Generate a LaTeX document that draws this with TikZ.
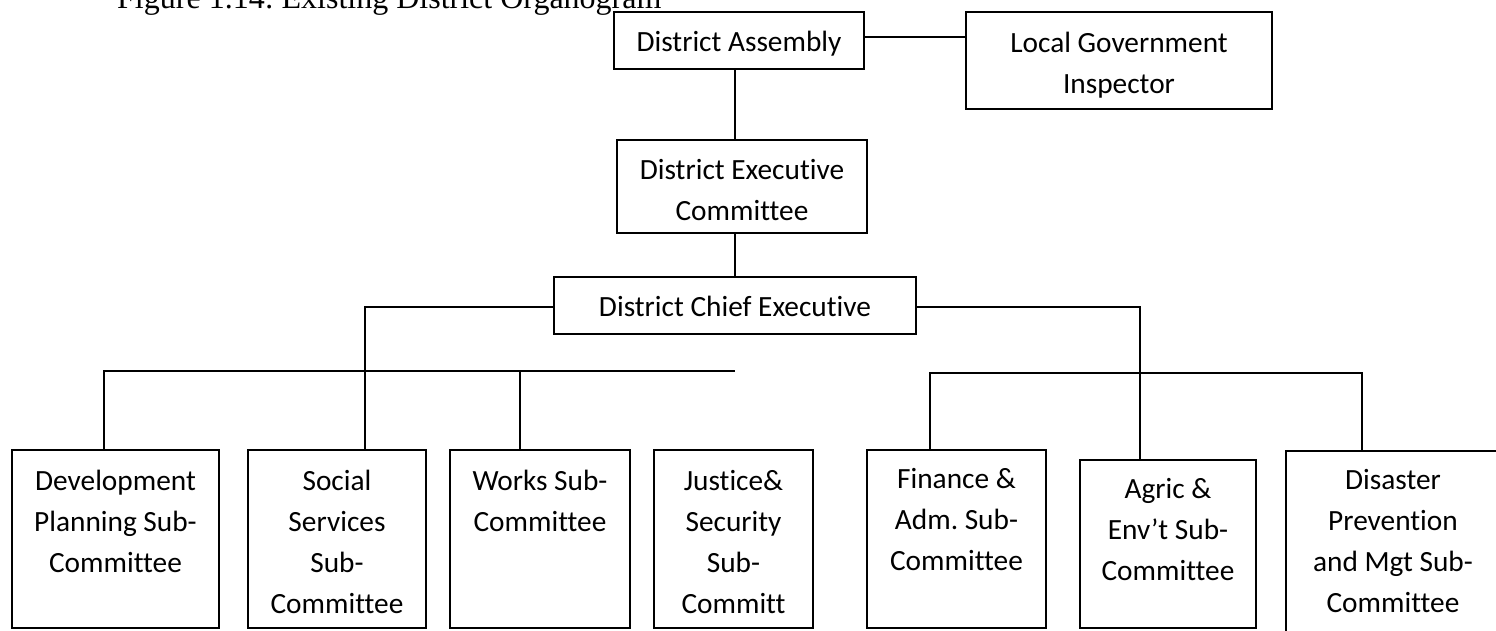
\documentclass[tikz,border=0pt]{standalone}
\usepackage{fontspec}
\newfontfamily\boxfont{Carlito}[Ligatures=NoCommon]
\newfontfamily\captionfont{Liberation Serif}
\frenchspacing
% box of fixed size (width, height in pt), first baseline at #3 below the top
\newcommand{\cellbox}[4]{\parbox[c][#2pt][t]{#1pt}{\centering\rule{0pt}{#3pt}#4}}
\begin{document}
\begin{tikzpicture}[x=1pt,y=-1pt,
  unit/.style={draw,line width=2.2pt,inner sep=0pt,outer sep=0pt,anchor=north west,
    font=\boxfont\fontsize{29.33pt}{41pt}\selectfont},
  link/.style={draw,line width=2.2pt}]
\useasboundingbox (0,0) rectangle (1496,630);

% caption
\node[anchor=base west,inner sep=0pt,font=\captionfont\fontsize{32pt}{38pt}\selectfont] (title) at (117,8) {Figure 1.14: Existing District Organogram};

% upper levels
\node[unit] (da)  at (614,12)  {\cellbox{250}{57}{39}{District Assembly}};
\node[unit] (lgi) at (966,12)  {\cellbox{306}{97}{40}{Local Government\\Inspector}};
\node[unit] (dec) at (617,140) {\cellbox{250}{93}{39}{District Executive\\Committee}};
\node[unit] (dce) at (554,277) {\cellbox{362}{57}{39}{District Chief Executive}};

% sub-committees
\node[unit] (dev) at (12,450)   {\cellbox{207}{178}{40}{Development\\Planning Sub-\\Committee}};
\node[unit] (soc) at (248,450)  {\cellbox{178}{178}{40}{Social\\Services\\Sub-\\Committee}};
\node[unit] (wrk) at (450,450)  {\cellbox{180}{178}{40}{Works Sub-\\Committee}};
\node[unit] (jus) at (654,450)  {\cellbox{159}{178}{40}{Justice\&\\Security\\Sub-\\Committ}};
\node[unit] (fin) at (867,450)  {\cellbox{179}{178}{38}{Finance \&\\Adm. Sub-\\Committee}};
\node[unit] (agr) at (1080,460) {\cellbox{176}{168}{38}{Agric \&\\Env’t Sub-\\Committee}};
\node[unit] (dis) at (1286,451) {\cellbox{214}{200}{38}{Disaster\\Prevention\\and Mgt Sub-\\Committee}};

% junction points
\coordinate (axis) at (735,0);
\coordinate (jl) at (365,307);
\coordinate (jr) at (1140,307);
\coordinate (busLa) at (104,371);
\coordinate (busLb) at (735,371);
\coordinate (wk) at (520,371);
\coordinate (busRa) at (930,373);
\coordinate (busRb) at (1362,373);

% connectors
\path[link] ([yshift=3.5pt]da.east) -- ([yshift=3.5pt]da.east -| lgi.west);
\path[link] (da.south -| axis) -- (dec.north -| axis);
\path[link] (dec.south -| axis) -- (dce.north -| axis);
\path[link] ([yshift=-1.5pt]dce.west) -- ([yshift=-1.5pt]dce.west -| jl) -- (soc.north -| jl);
\path[link] ([yshift=-1.5pt]dce.east) -- ([yshift=-1.5pt]dce.east -| jr) -- (agr.north -| jr);
\path[link] (dev.north -| busLa) -- (busLa) -- (busLb);
\path[link] (wk) -- (wrk.north -| wk);
\path[link] (fin.north -| busRa) -- (busRa) -- (busRb) -- (dis.north -| busRb);
\end{tikzpicture}
\end{document}
